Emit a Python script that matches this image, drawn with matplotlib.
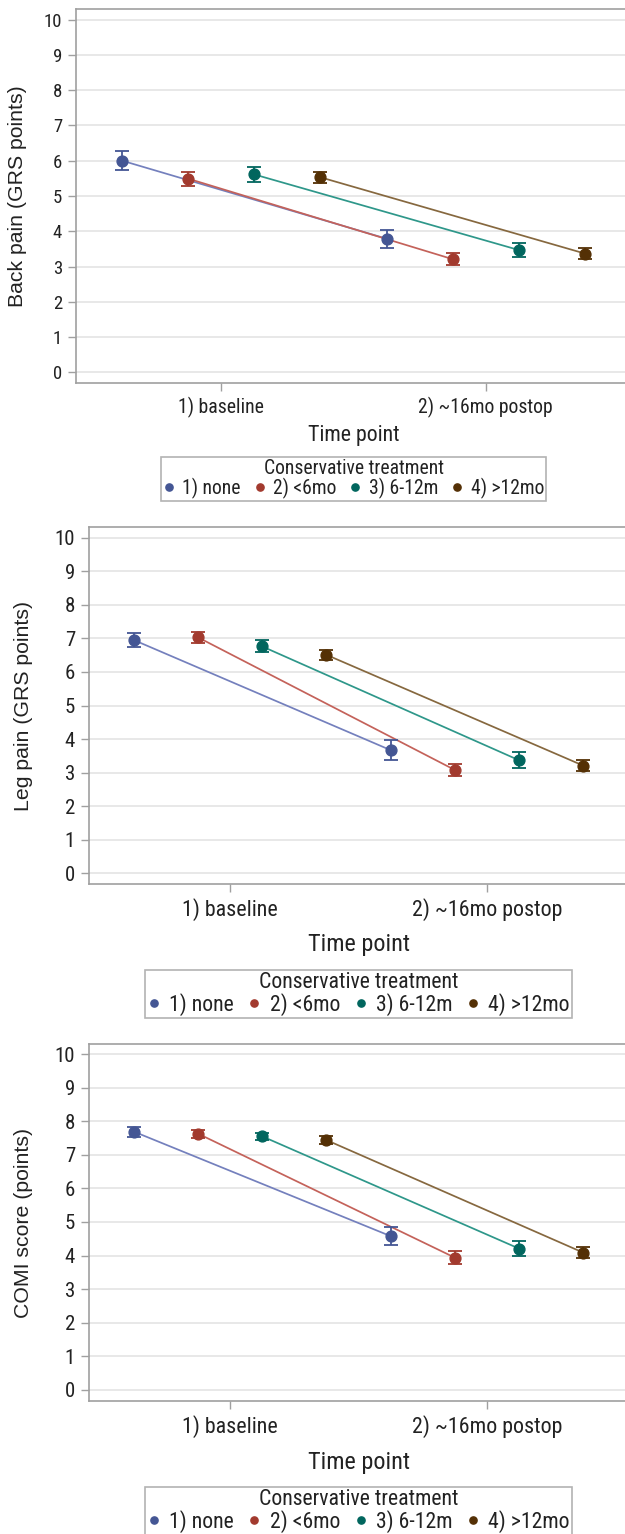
import os

import matplotlib

matplotlib.use("Agg")
import matplotlib.pyplot as plt
from matplotlib import font_manager
from matplotlib.font_manager import FontProperties
from matplotlib.lines import Line2D

groups = ["1) none", "2) <6mo", "3) 6-12m", "4) >12mo"]
timepoints = ["1) baseline", "2) ~16mo postop"]
y_ticks = [0, 1, 2, 3, 4, 5, 6, 7, 8, 9, 10]

back_base = [6.00, 5.49, 5.61, 5.53]
back_post = [3.79, 3.21, 3.47, 3.37]
back_err_base = [0.27, 0.20, 0.21, 0.15]
back_err_post = [0.26, 0.17, 0.20, 0.16]

leg_base = [6.95, 7.03, 6.76, 6.51]
leg_post = [3.67, 3.08, 3.37, 3.21]
leg_err_base = [0.22, 0.16, 0.18, 0.14]
leg_err_post = [0.30, 0.18, 0.24, 0.16]

comi_base = [7.69, 7.63, 7.55, 7.44]
comi_post = [4.58, 3.94, 4.21, 4.09]
comi_err_base = [0.15, 0.12, 0.11, 0.11]
comi_err_post = [0.27, 0.19, 0.23, 0.155]

marker_colors = ["#445694", "#A23A2E", "#01665E", "#543005"]
line_colors = ["#7480BD", "#C4625A", "#2E978A", "#86683F"]


def find_narrow_font():
    # look for a condensed sans face, the SAS output uses Arial Narrow-like text
    best = None
    for f in font_manager.fontManager.ttflist:
        name = f.name
        base = os.path.basename(f.fname)
        if "Mono" in name or "Serif" in name or "CJK" in name:
            continue
        if f.style != "normal" or f.weight not in (400, "normal", "regular"):
            continue
        narrowish = ("Narrow" in name or "Condensed" in name or "Narrow" in base
                     or "Condensed" in base
                     or f.stretch in ("condensed", "semi-condensed", "extra-condensed"))
        if not narrowish or "Extra" in base or "Semi" in base:
            continue
        rank = 0 if "Liberation" in name else (1 if "Roboto" in name else 2)
        if best is None or rank < best[0]:
            best = (rank, f.fname)
    return best[1] if best else None


narrow_path = find_narrow_font()
if narrow_path:
    narrow_scale = 1.0
else:
    narrow_scale = 0.86


def nfont(size):
    if narrow_path:
        return FontProperties(fname=narrow_path, size=size)
    return FontProperties(family="Liberation Sans", size=size * narrow_scale)


W, H = 625, 1534
fig = plt.figure(figsize=(W / 100, H / 100), dpi=100)
frame_col = "#A0A0A0"
text_col = "#222222"


def panel(left, right, top, bottom, ylim, base, post, err_base, err_post,
          ylabel, ylabel_x, xlabel_y, leg_top, scale):
    ax = fig.add_axes([left / W, 1 - bottom / H, (right - left) / W, (bottom - top) / H])
    for i in range(len(groups)):
        dx = (i - 1.5) * 0.25
        xs = [0 + dx, 1 + dx]
        ys = [base[i], post[i]]
        ax.plot(xs, ys, color=line_colors[i], lw=1.25, zorder=2)
        ax.errorbar(xs, ys, yerr=[err_base[i], err_post[i]], fmt="o",
                    color=marker_colors[i], ms=7.8, elinewidth=1.3,
                    capsize=5, capthick=1.3, zorder=3)
    ax.set_xlim(-0.55, 1.55)
    ax.set_ylim(*ylim)
    ax.set_yticks(y_ticks, [str(v) for v in y_ticks],
                  fontproperties=nfont(15 * scale), color=text_col)
    ax.set_xticks([0, 1], timepoints, fontproperties=nfont(15.8 * scale), color=text_col)
    ax.yaxis.grid(True, color="#E6E6E6", lw=1.3)
    ax.set_axisbelow(True)
    for s in ["left", "top", "bottom", "right"]:
        ax.spines[s].set_color(frame_col)
        ax.spines[s].set_linewidth(1.2)
    ax.tick_params(axis="both", color=frame_col, length=6, width=1.0, pad=4)
    ax.set_ylabel(ylabel, family="Liberation Sans", fontsize=15.3, color=text_col, va="center")
    ax.yaxis.set_label_coords((ylabel_x - left) / (right - left), 0.5)
    ax.set_xlabel("Time point", fontproperties=nfont(17.5 * scale), color=text_col)
    ax.xaxis.set_label_coords(0.5, (bottom - xlabel_y) / (bottom - top))
    ax.xaxis.label.set_va("center")
    handles = [Line2D([], [], ls="none", marker="o", ms=5.2, color=c) for c in marker_colors]
    leg = ax.legend(handles, groups, ncol=4, loc="upper center",
                    bbox_to_anchor=(((left + right) / 2) / W, 1 - leg_top / H),
                    bbox_transform=fig.transFigure, title="Conservative treatment",
                    prop=nfont(15.7 * scale), title_fontproperties=nfont(15.7 * scale),
                    frameon=True, fancybox=False, edgecolor=frame_col,
                    handletextpad=0.4, columnspacing=0.65, handlelength=0.6,
                    borderpad=0.1, labelspacing=0.0, borderaxespad=0)
    leg.get_frame().set_linewidth(1.2)
    for t in leg.get_texts():
        t.set_color(text_col)
    leg.get_title().set_color(text_col)
    return ax


panel(76, 631, 9, 383, (-0.3, 10.3), back_base, back_post, back_err_base, back_err_post,
      "Back pain (GRS points)", 18, 435, 457, 0.9)
panel(89, 628, 527, 884, (-0.32, 10.32), leg_base, leg_post, leg_err_base, leg_err_post,
      "Leg pain (GRS points)", 24, 945, 970, 1.0)
panel(89, 628, 1044, 1401, (-0.33, 10.3), comi_base, comi_post, comi_err_base, comi_err_post,
      "COMI score (points)", 24, 1462, 1487, 1.0)

fig.savefig("out.png", dpi=100)
